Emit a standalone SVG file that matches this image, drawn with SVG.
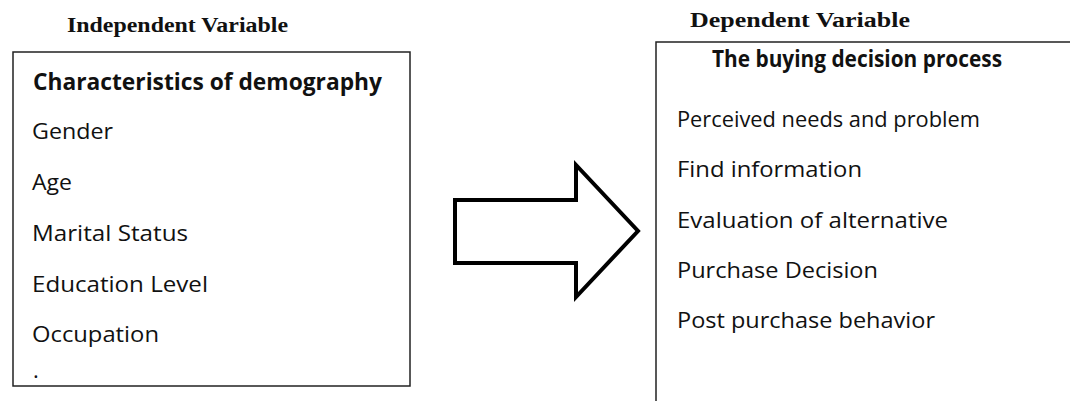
<svg xmlns="http://www.w3.org/2000/svg" width="1070" height="401" viewBox="0 0 1070 401">
<style>
.cap{font-family:"Liberation Serif","Times New Roman",serif;font-weight:bold;font-size:20px;fill:#111}
.hd{font-family:"Open Sans","Noto Sans",sans-serif;font-weight:bold;font-size:23px;fill:#111}
.it{font-family:"Open Sans","Noto Sans",sans-serif;font-size:22px;fill:#111}
.box{fill:none;stroke:#222;stroke-width:1.5}
</style>
<rect width="1070" height="401" fill="#fff"/>
<g id="independent">
<text class="cap" x="67" y="32" textLength="221" lengthAdjust="spacingAndGlyphs">Independent Variable</text>
<rect class="box" x="13" y="52" width="397" height="334"/>
<text class="hd" x="33" y="90" textLength="349" lengthAdjust="spacingAndGlyphs">Characteristics of demography</text>
<text class="it" x="32" y="139" textLength="81" lengthAdjust="spacingAndGlyphs">Gender</text>
<text class="it" x="32" y="190" textLength="40" lengthAdjust="spacingAndGlyphs">Age</text>
<text class="it" x="32" y="241" textLength="156" lengthAdjust="spacingAndGlyphs">Marital Status</text>
<text class="it" x="32" y="292" textLength="176" lengthAdjust="spacingAndGlyphs">Education Level</text>
<text class="it" x="32" y="342" textLength="127" lengthAdjust="spacingAndGlyphs">Occupation</text>
<text class="it" x="33" y="378">.</text>
</g>
<g id="dependent">
<text class="cap" x="690" y="27" textLength="220" lengthAdjust="spacingAndGlyphs">Dependent Variable</text>
<path class="box" d="M1070 42 H656 V401"/>
<text class="hd" x="712" y="67" textLength="290" lengthAdjust="spacingAndGlyphs">The buying decision process</text>
<text class="it" x="677" y="127" textLength="303" lengthAdjust="spacingAndGlyphs">Perceived needs and problem</text>
<text class="it" x="677" y="177" textLength="185" lengthAdjust="spacingAndGlyphs">Find information</text>
<text class="it" x="677" y="228" textLength="271" lengthAdjust="spacingAndGlyphs">Evaluation of alternative</text>
<text class="it" x="677" y="278" textLength="201" lengthAdjust="spacingAndGlyphs">Purchase Decision</text>
<text class="it" x="677" y="328" textLength="258" lengthAdjust="spacingAndGlyphs">Post purchase behavior</text>
</g>
<g id="connectors">
<polygon points="455,200 576,200 576,165 638,231 576,297 576,263 455,263" fill="#fff" stroke="#000" stroke-width="4" stroke-linejoin="miter"/>
</g>
</svg>
